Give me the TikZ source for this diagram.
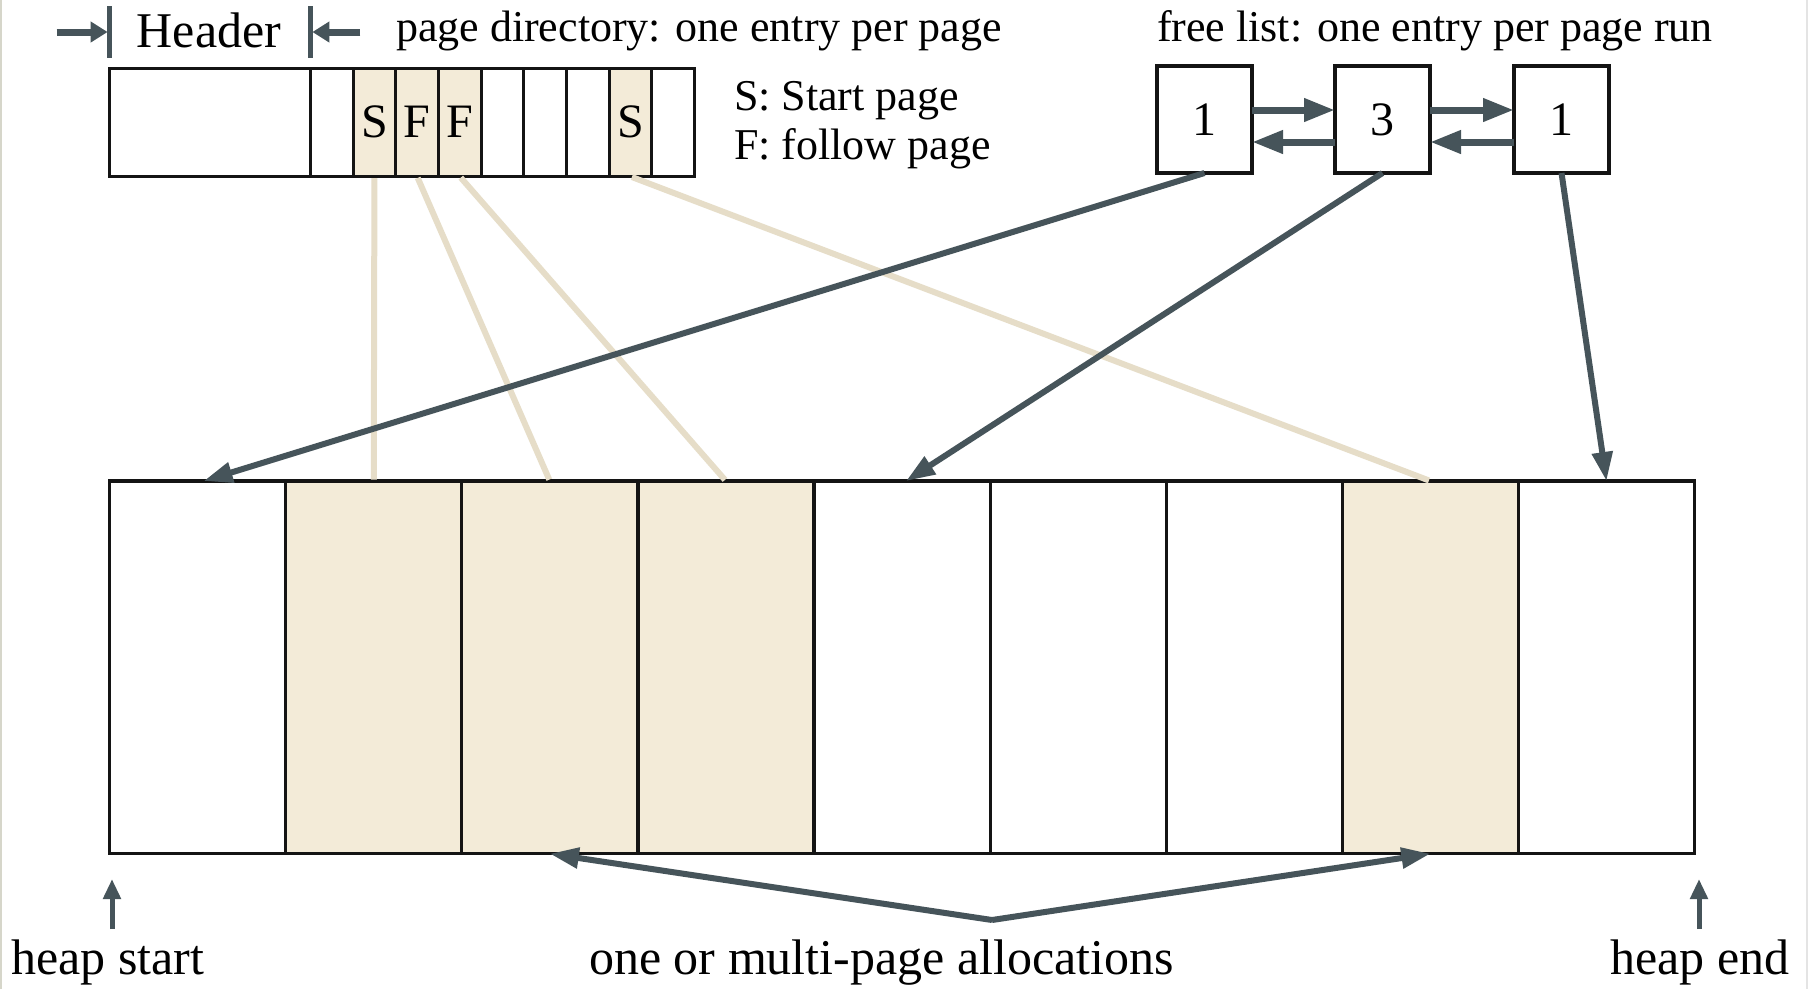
\documentclass[tikz,border=0pt]{standalone}
\usepackage{fontspec}
\setmainfont{Liberation Serif}
\usetikzlibrary{arrows.meta}

\definecolor{ink}{RGB}{70,84,90}
\definecolor{edge}{RGB}{20,20,20}
\definecolor{tanA}{RGB}{243,235,216}
\definecolor{tanline}{RGB}{230,221,200}
\definecolor{slideedge}{RGB}{214,214,202}
\definecolor{slideedgeR}{RGB}{228,228,228}

\newcommand\txtTop{\fontsize{44}{50}\selectfont}
\newcommand\txtBig{\fontsize{50}{56}\selectfont}

\tikzset{
  tanfill/.style={fill=tanA},
  pagecell/.style={draw=edge, line width=3, fill=white, inner sep=0, outer sep=0,
    minimum width=42.68, minimum height=108.5, font=\fontsize{48}{50}\selectfont},
  heapcell/.style={draw=edge, line width=3.2, fill=white, inner sep=0, outer sep=0,
    minimum width=176.1, minimum height=372.7},
  listbox/.style={draw=edge, line width=3.5, fill=white, inner sep=0, outer sep=0,
    minimum width=95, minimum height=107, font=\fontsize{48}{50}\selectfont},
  lbl/.style={inner sep=0, outer sep=0, text=black},
  ptr/.style={draw=ink, line width=6, -{Triangle[length=29, width=20]}},
  link/.style={draw=ink, line width=7, -{Triangle[length=31, width=22]}},
  hdrarrow/.style={draw=ink, line width=7, -{Triangle[length=17, width=20]}},
  hdrbar/.style={draw=ink, line width=4.5},
  tanlink/.style={draw=tanline, line width=6, shorten <=1.5, shorten >=1.5},
}

\begin{document}
\begin{tikzpicture}[x=1pt, y=-1pt]
\useasboundingbox (0,0) rectangle (1809,989);
\fill[white] (0,0) rectangle (1809,989);
\draw[slideedge, line width=2] (1,0) -- (1,989);
\draw[slideedgeR, line width=2] (1807,0) -- (1807,989);

% ---- page directory: header block and nine entries ----
\node[pagecell, minimum width=200.8] (dhdr) at (210,122.25) {};
\foreach \i in {0,4,5,6,8}
  \node[pagecell] (d\i) at ({310.4+42.68*(\i+0.5)},122.25) {};
\foreach \i/\t in {1/S,2/F,3/F,7/S}
  \node[pagecell, tanfill] (d\i) at ({310.4+42.68*(\i+0.5)},122.25) {\t};

% header extent markers
\coordinate (barL) at (dhdr.west |- 0,32);
\coordinate (barR) at (d0.west |- 0,32);
\draw[hdrbar] ([yshift=26]barL) -- ([yshift=-26]barL);
\draw[hdrbar] ([yshift=26]barR) -- ([yshift=-26]barR);
\draw[hdrarrow] ([xshift=-53]barL) -- ([xshift=-2]barL);
\draw[hdrarrow] ([xshift=50]barR) -- ([xshift=2]barR);

\node[lbl, anchor=base, font=\txtBig] (hdrtxt) at (209,47) {Header};
\node[lbl, anchor=base west, font=\txtTop] (dirtxt) at (396,41) {page directory: one entry per page};
\node[lbl, anchor=base west, font=\txtTop] (legS) at (734,110) {S: Start page};
\node[lbl, anchor=base west, font=\txtTop] (legF) at (734,159.5) {F: follow page};

% ---- free list ----
\node[lbl, anchor=base west, font=\txtTop] (freetxt) at (1157,41) {free list: one entry per page run};
\node[listbox] (f1) at (1204.5,119.5) {1};
\node[listbox] (f2) at (1382.5,119.5) {3};
\node[listbox] (f3) at (1561.5,119.5) {1};
\draw[link] ([yshift=9.5]f1.east) -- ([yshift=9.5]f2.west);
\draw[link] ([yshift=9.5]f2.east) -- ([yshift=9.5]f3.west);
\draw[link] ([yshift=-22.5]f2.west) -- ([yshift=-22.5]f1.east);
\draw[link] ([yshift=-22.5]f3.west) -- ([yshift=-22.5]f2.east);

% ---- heap pages ----
\foreach \i in {0,4,5,6,8}
  \node[heapcell] (h\i) at ({109.6+176.1*(\i+0.5)},667.35) {};
\foreach \i in {1,2,3,7}
  \node[heapcell, tanfill] (h\i) at ({109.6+176.1*(\i+0.5)},667.35) {};

% directory entries to their pages
\draw[tanlink] (d1.south) -- (h1.north);
\draw[tanlink] (d2.south) -- (h2.north);
\draw[tanlink] (d3.south) -- (h3.north);
\draw[tanlink] (d7.south) -- (h7.north);

% free list entries to their page runs
\draw[ptr] (f1.south) -- ([xshift=6]h0.north);
\draw[ptr] (f2.south) -- ([xshift=4]h4.north);
\draw[ptr] (f3.south) -- (h8.north);

% ---- bottom labels ----
\coordinate (apex) at (992,920);
\draw[ptr] (apex) -- (h2.south);
\draw[ptr] (apex) -- (h7.south);

\coordinate (hsTail) at (112,929);
\coordinate (hsTip) at (112,879);
\coordinate (heTail) at (1699,929);
\coordinate (heTip) at (1699,879);
\draw[ptr, line width=5, -{Triangle[length=20, width=17]}] (hsTail) -- (hsTip);
\draw[ptr, line width=5, -{Triangle[length=20, width=17]}] (heTail) -- (heTip);

\node[lbl, anchor=base, font=\txtBig] (hstart) at (108,974) {heap start};
\node[lbl, anchor=base, font=\txtBig] (alloc) at (881.5,974) {one or multi-page allocations};
\node[lbl, anchor=base, font=\txtBig] (hend) at (1700,974) {heap end};
\end{tikzpicture}
\end{document}
